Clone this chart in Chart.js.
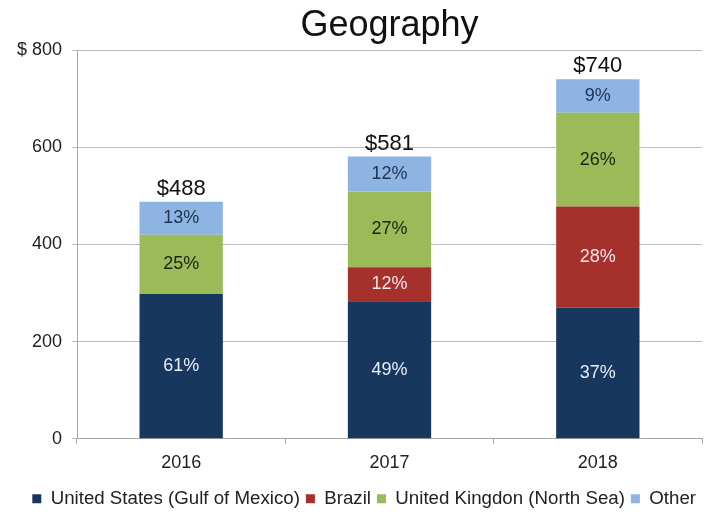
<!DOCTYPE html>
<html>
<head>
<meta charset="utf-8">
<script src="https://cdn.jsdelivr.net/npm/chart.js@4.4.0/dist/chart.umd.min.js"></script>
<style>
    html, body { margin: 0; padding: 0; background: #fff; }
    #wrap { width: 725px; height: 517px; }
</style>
</head>
<body>
<div id="wrap"><canvas id="geoChart" width="725" height="517"></canvas></div>
<script>
// values in $ millions
var years = ['2016', '2017', '2018'];
var usGulf = [298, 283, 270];
var brazil = [0, 70, 208];
var ukNorthSea = [122, 156, 193];
var other = [68, 72, 69];

// labels printed on the bars
var usPct = ['61%', '49%', '37%'];
var brazilPct = ['', '12%', '28%'];
var ukPct = ['25%', '27%', '26%'];
var otherPct = ['13%', '12%', '9%'];
var totals = ['$488', '$581', '$740'];

var yTicks = [0, 200, 400, 600, 800];

var FONT = '"Liberation Sans", Arial, sans-serif';

var barLabels = {
    id: 'barLabels',
    afterDatasetsDraw: function (chart) {
        var ctx = chart.ctx;
        ctx.save();
        ctx.textAlign = 'center';
        ctx.textBaseline = 'middle';
        chart.data.datasets.forEach(function (ds, i) {
            var meta = chart.getDatasetMeta(i);
            ctx.font = '18px ' + FONT;
            ctx.fillStyle = ds.labelColor;
            meta.data.forEach(function (bar, j) {
                var txt = ds.pctLabels[j];
                if (!txt) return;
                ctx.fillText(txt, bar.x, (bar.y + bar.base) / 2);
            });
        });
        // totals above the stack
        var last = chart.getDatasetMeta(chart.data.datasets.length - 1);
        ctx.font = '22px ' + FONT;
        ctx.fillStyle = '#111';
        ctx.textBaseline = 'bottom';
        last.data.forEach(function (bar, j) {
            ctx.fillText(totals[j], bar.x, bar.y - 2);
        });
        ctx.restore();
    }
};

var ctx = document.getElementById('geoChart').getContext('2d');
var geoChart = new Chart(ctx, {
    type: 'bar',
    data: {
        labels: years,
        datasets: [{
            label: 'United States (Gulf of Mexico)',
            data: usGulf,
            backgroundColor: '#17375e',
            pctLabels: usPct,
            labelColor: '#e8eef6'
        }, {
            label: 'Brazil',
            data: brazil,
            backgroundColor: '#a5302c',
            pctLabels: brazilPct,
            labelColor: '#f2e6e6'
        }, {
            label: 'United Kingdon (North Sea)',
            data: ukNorthSea,
            backgroundColor: '#9bbb59',
            pctLabels: ukPct,
            labelColor: '#1b2410'
        }, {
            label: 'Other',
            data: other,
            backgroundColor: '#8db4e2',
            pctLabels: otherPct,
            labelColor: '#1f3350'
        }]
    },
    options: {
        responsive: false,
        animation: false,
        layout: { padding: { left: 0, right: 23, top: 4, bottom: -1 } },
        datasets: {
            bar: { barPercentage: 0.8, categoryPercentage: 0.5 }
        },
        plugins: {
            title: {
                display: true,
                fullSize: false,
                text: 'Geography',
                color: '#111',
                font: { family: FONT, size: 36, weight: 'normal' },
                padding: { top: 0, bottom: 3 }
            },
            legend: {
                position: 'bottom',
                align: 'end',
                labels: {
                    color: '#222',
                    boxWidth: 9,
                    boxHeight: 9,
                    padding: 6,
                    font: { family: FONT, size: 18.7 }
                }
            },
            tooltip: { enabled: false }
        },
        scales: {
            x: {
                stacked: true,
                border: { color: '#a6a6a6', width: 1 },
                grid: { offset: true, drawOnChartArea: false, color: '#a6a6a6', tickLength: 5 },
                ticks: {
                    color: '#222',
                    padding: 9,
                    font: { family: FONT, size: 18 }
                }
            },
            y: {
                stacked: true,
                min: 0,
                max: 800,
                border: { color: '#a6a6a6', width: 1 },
                grid: { color: '#bdbdbd', tickLength: 5 },
                afterFit: function (axis) { axis.width = 77; },
                afterBuildTicks: function (axis) {
                    axis.ticks = yTicks.map(function (v) { return { value: v }; });
                },
                ticks: {
                    color: '#222',
                    padding: 10,
                    font: { family: FONT, size: 18 },
                    callback: function (v) { return v === 800 ? '$ ' + v : v; }
                }
            }
        }
    },
    plugins: [barLabels]
});
</script>
</body>
</html>
